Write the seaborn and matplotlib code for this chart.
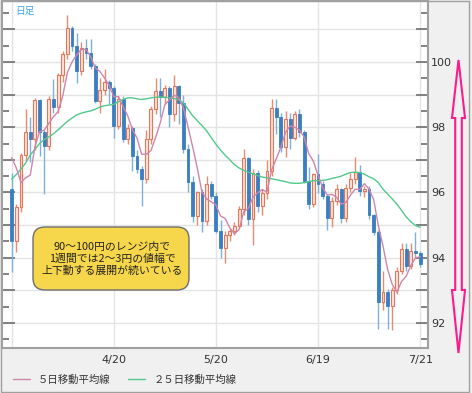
import numpy as np
import pandas as pd
import matplotlib
matplotlib.use("Agg")
import matplotlib.pyplot as plt
import matplotlib.transforms as mtransforms
import seaborn as sns
from matplotlib.patches import FancyBboxPatch, Polygon, Rectangle
from matplotlib.lines import Line2D
from matplotlib.ticker import MultipleLocator, FuncFormatter
from matplotlib.font_manager import FontProperties

# daily candles, 3/19 .. 7/21 (weekdays)
opens = [96.10, 94.52, 95.54, 97.14, 97.84, 97.63, 98.83, 97.84, 97.43, 98.88,
         98.63, 99.60, 100.24, 101.05, 100.49, 99.72, 100.42, 100.27, 99.88, 98.81,
         99.15, 99.40, 99.21, 98.05, 98.86, 97.65, 97.99, 97.12, 96.71, 96.40,
         97.63, 98.55, 99.11, 98.94, 99.20, 98.40, 99.27, 98.75, 97.33, 96.31,
         95.29, 96.00, 95.13, 96.25, 95.90, 94.82, 94.31, 94.71, 94.82, 94.98,
         95.48, 97.07, 95.18, 96.61, 95.59, 95.99, 96.67, 98.60, 98.30, 97.38,
         98.24, 97.68, 98.40, 97.84, 96.36, 95.65, 96.56, 96.26, 95.90, 95.23,
         95.74, 96.10, 95.23, 96.15, 96.40, 96.62, 96.05, 96.12, 95.30, 94.80,
         92.63, 92.96, 92.52, 93.00, 93.60, 94.26, 93.75, 94.20, 94.15]
highs = [96.61, 95.65, 97.20, 98.55, 98.30, 98.90, 98.85, 97.94, 98.95, 99.47,
         99.65, 100.34, 101.43, 101.10, 100.90, 100.60, 100.70, 100.70, 99.95, 99.50,
         99.78, 99.45, 99.25, 98.96, 98.95, 98.10, 98.05, 97.30, 96.80, 97.90,
         98.65, 99.52, 99.52, 99.30, 99.25, 99.60, 99.30, 99.00, 97.50, 96.50,
         96.05, 96.10, 96.50, 96.35, 96.00, 95.16, 94.82, 94.90, 95.10, 95.58,
         97.33, 97.10, 96.71, 96.70, 96.10, 97.00, 98.86, 98.86, 98.45, 98.50,
         98.45, 98.50, 98.55, 97.90, 96.77, 96.60, 97.17, 96.35, 95.95, 95.85,
         96.25, 96.15, 96.25, 96.60, 97.10, 96.85, 96.20, 96.20, 95.35, 94.85,
         93.60, 93.05, 93.10, 93.70, 94.45, 94.45, 94.45, 94.78, 94.20]
lows = [93.55, 94.16, 95.40, 96.95, 96.94, 97.30, 97.12, 95.95, 97.30, 98.45,
        98.45, 99.40, 100.10, 100.35, 99.37, 99.60, 100.10, 99.80, 98.75, 98.45,
        99.00, 98.70, 97.68, 97.95, 97.55, 97.50, 96.65, 96.60, 95.59, 96.30,
        97.50, 98.40, 98.30, 98.70, 98.00, 98.20, 98.10, 97.20, 96.00, 95.10,
        95.00, 94.78, 95.00, 95.80, 94.75, 94.00, 93.84, 94.50, 94.70, 94.90,
        95.30, 95.00, 94.40, 95.40, 95.30, 95.80, 96.50, 97.80, 97.25, 97.10,
        97.33, 97.60, 97.70, 96.30, 95.49, 95.55, 95.99, 95.80, 94.86, 94.95,
        95.60, 95.05, 95.10, 96.00, 96.25, 95.90, 95.85, 95.20, 94.68, 91.81,
        92.40, 91.81, 91.77, 92.90, 93.50, 93.60, 93.65, 94.00, 93.70]
closes = [94.52, 95.54, 97.14, 97.84, 97.63, 98.83, 97.84, 97.43, 98.88, 98.63,
          99.60, 100.24, 101.05, 100.49, 99.72, 100.42, 100.27, 99.88, 98.81, 99.15,
          99.40, 99.21, 98.05, 98.86, 97.65, 97.99, 97.12, 96.71, 96.40, 97.63,
          98.55, 99.11, 98.94, 99.20, 98.40, 99.27, 98.75, 97.33, 96.31, 95.29,
          96.00, 95.13, 96.25, 95.90, 94.82, 94.31, 94.71, 94.82, 94.98, 95.48,
          97.07, 95.18, 96.61, 95.59, 95.99, 96.67, 98.60, 98.30, 97.38, 98.24,
          97.68, 98.40, 97.84, 96.36, 95.65, 96.56, 96.26, 95.90, 95.23, 95.74,
          96.10, 95.23, 96.15, 96.40, 96.62, 96.05, 96.12, 95.30, 94.80, 92.63,
          92.96, 92.52, 93.00, 93.60, 94.26, 93.75, 94.20, 94.15, 93.80]
ma5 = [97.07, 96.75, 96.30, 96.45, 96.53, 97.40, 97.86, 97.91, 98.12, 98.32,
       98.48, 98.96, 99.68, 100.00, 100.22, 100.38, 100.39, 100.16, 99.82, 99.71,
       99.51, 99.29, 98.93, 98.94, 98.63, 98.35, 97.93, 97.67, 97.17, 97.17,
       97.28, 97.68, 98.13, 98.69, 98.84, 98.98, 98.91, 98.59, 98.01, 97.39,
       96.74, 96.01, 95.80, 95.71, 95.62, 95.28, 95.20, 94.91, 94.73, 94.86,
       95.41, 95.51, 95.86, 95.99, 96.09, 96.01, 96.69, 97.03, 97.39, 97.84,
       98.04, 98.00, 97.91, 97.70, 97.19, 96.96, 96.53, 96.15, 95.92, 95.94,
       95.85, 95.64, 95.69, 95.92, 96.10, 96.09, 96.27, 96.10, 95.78, 94.98,
       94.36, 93.64, 93.18, 92.94, 93.27, 93.43, 93.76, 93.99, 94.03]
ma25 = [96.41, 96.55, 96.72, 96.90, 97.15, 97.32, 97.50, 97.62, 97.70, 97.80,
        97.92, 98.05, 98.18, 98.28, 98.38, 98.43, 98.47, 98.50, 98.55, 98.62,
        98.66, 98.68, 98.70, 98.78, 98.85, 98.90, 98.90, 98.87, 98.85, 98.87,
        98.90, 98.92, 98.93, 98.92, 98.90, 98.88, 98.84, 98.75, 98.55, 98.35,
        98.20, 98.05, 97.89, 97.68, 97.48, 97.30, 97.14, 97.00, 96.85, 96.75,
        96.68, 96.62, 96.57, 96.52, 96.47, 96.45, 96.42, 96.39, 96.36, 96.33,
        96.29, 96.28, 96.28, 96.30, 96.33, 96.36, 96.36, 96.37, 96.39, 96.43,
        96.46, 96.50, 96.56, 96.61, 96.62, 96.61, 96.56, 96.48, 96.42, 96.30,
        96.10, 95.95, 95.80, 95.64, 95.45, 95.25, 95.10, 94.99, 94.93]

tick_pos = [0, 22, 44, 66, 88]
tick_labels = ['', '4/20', '5/20', '6/19', '7/21']
legend_labels = ['５日移動平均線', '２５日移動平均線']
note = '90～100円のレンジ内で\n1週間では2～3円の値幅で\n上下動する展開が続いている'

CJK = ['Noto Sans CJK JP', 'DejaVu Sans']
sns.set_style("white")
plt.rcParams['font.family'] = ['DejaVu Sans', 'Noto Sans CJK JP']

W, H = 472, 393
fig = plt.figure(figsize=(W / 100, H / 100), dpi=100, facecolor='#f0f0f0')
px = mtransforms.Affine2D().scale(1 / W, -1 / H).translate(0, 1) + fig.transFigure
ax = fig.add_axes([2 / W, 1 - 348 / H, 426 / W, 347 / H])
ax.set_facecolor('white')

df = pd.DataFrame({'x': np.arange(len(closes)), 'open': opens, 'high': highs,
                   'low': lows, 'close': closes, 'ma5': ma5, 'ma25': ma25})
up = df[df['close'] >= df['open']]
dn = df[df['close'] < df['open']]

up_edge, up_fill, up_wick = '#e57659', '#fbe2da', '#ea8a70'
dn_body, dn_wick = '#3a7fc1', '#7db0dc'
c5, c25 = '#d085ab', '#52c98a'

ax.vlines(up['x'], up['low'], up['high'], color=up_wick, lw=1, zorder=2)
ax.vlines(dn['x'], dn['low'], dn['high'], color=dn_wick, lw=1, zorder=2)
ax.bar(up['x'], up['close'] - up['open'], bottom=up['open'], width=0.62,
       color=up_fill, edgecolor=up_edge, linewidth=0.8, zorder=3)
ax.bar(dn['x'], dn['open'] - dn['close'], bottom=dn['close'], width=0.62,
       color=dn_body, edgecolor=dn_body, linewidth=0.6, zorder=3)

sns.lineplot(data=df, x='x', y='ma25', color=c25, lw=1, ax=ax, zorder=4)
sns.lineplot(data=df, x='x', y='ma5', color=c5, lw=1, ax=ax, zorder=5)
ax.set_xlabel('')
ax.set_ylabel('')

ax.set_xlim(-2.09, 89.7)
ax.set_ylim(91.23, 101.87)
ax.yaxis.set_major_locator(MultipleLocator(1))
ax.yaxis.set_minor_locator(MultipleLocator(0.5))
ax.yaxis.set_major_formatter(FuncFormatter(lambda v, p: f'{v:.0f}' if round(v) % 2 == 0 else ''))
ax.set_xticks(tick_pos)
ax.set_xticklabels(tick_labels)
ax.grid(True, which='major', color='#e4e4e4', lw=1)
ax.set_axisbelow(True)

ax.tick_params(axis='y', which='major', direction='in', length=9, width=1.2, color='#6e6e6e',
               left=True, right=True, labelleft=False, labelright=True,
               labelsize=8, labelcolor='#333333', pad=2)
ax.tick_params(axis='y', which='minor', direction='in', length=5, width=1.2, color='#6e6e6e',
               left=True, right=True)
ax.tick_params(axis='x', length=0, pad=5, labelsize=8, labelcolor='#333333')
for s in ax.spines.values():
    s.set_color('#a0a0a0')
    s.set_linewidth(1.5)

fig.text(15, 11, '日足', transform=px, color='#3aa8f0', fontsize=7, va='center',
         ha='left', family=CJK)

box = FancyBboxPatch((33, 227), 156, 63, boxstyle='round,pad=0,rounding_size=12',
                     transform=px, fc='#f6d64b', ec='#6e6e6e', lw=1)
fig.add_artist(box)
fig.text(112, 259, note, transform=px, ha='center', va='center', fontsize=7.8,
         linespacing=1.25, family=CJK, color='#222222')

arrow = Polygon([(458.5, 60), (465, 118), (461.8, 118), (461.8, 290), (465, 290),
                 (458.5, 353), (452, 290), (455.2, 290), (455.2, 118), (452, 118)],
                closed=True, transform=px, fill=False, ec='#ff1a8c', lw=1.5)
fig.add_artist(arrow)

fig.add_artist(Rectangle((0.5, 0.5), 468, 391.5, transform=px, fill=False,
                         ec='#a0a0a0', lw=1))

handles = [Line2D([], [], color=c5, lw=1), Line2D([], [], color=c25, lw=1)]
fig.legend(handles=handles, labels=legend_labels, loc='center left',
           bbox_to_anchor=(13 / W, 1 - 380 / H), ncol=2, frameon=False,
           handlelength=1.6, handletextpad=0.8, columnspacing=1.7,
           borderpad=0, borderaxespad=0, labelcolor='#333333',
           prop=FontProperties(family=CJK, size=7.5))

fig.savefig('out.png', dpi=100, facecolor=fig.get_facecolor())
